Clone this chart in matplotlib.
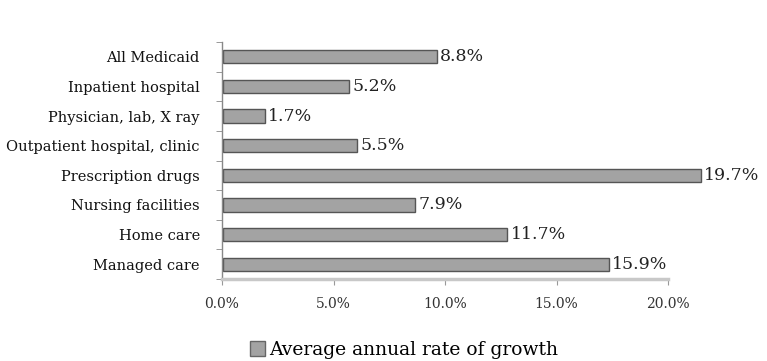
import matplotlib
matplotlib.use("Agg")
import matplotlib.pyplot as plt
import numpy as np
from matplotlib.patches import Patch

categories = ["All Medicaid", "Inpatient hospital", "Physician, lab, X ray",
              "Outpatient hospital, clinic", "Prescription drugs",
              "Nursing facilities", "Home care", "Managed care"]
values = [8.8, 5.2, 1.7, 5.5, 19.7, 7.9, 11.7, 15.9]
xticks = [0, 5, 10, 15, 20]
xticklabels = ["0.0%", "5.0%", "10.0%", "15.0%", "20.0%"]
legend_label = "Average annual rate of growth"

# the source chart's axis labels are spaced on a compressed scale
# relative to the bars (20.0% label sits where 18.4 in bar units lies)
label_scale = 0.92

plt.rcParams['font.family'] = ['DejaVu Serif', 'Liberation Serif']

fig = plt.figure(figsize=(7.67, 3.61), dpi=100)
top_px, bot_px = 42, 279
ax = fig.add_axes([222/767, 1-bot_px/361, (668-222)/767, (bot_px-top_px)/361])

n = len(categories)
y = np.arange(n)[::-1]
bars = ax.barh(y, values, height=0.45, color="#a3a3a3", edgecolor="#555555",
               linewidth=1.0, left=0.06)
for b in bars:
    b.set_clip_on(False)
for yi, v in zip(y, values):
    ax.text(v + 0.2, yi, f"{v:.1f}%", va="center", ha="left", fontsize=12.5,
            color="#222222", clip_on=False)

ax.set_ylim(-0.5, n - 0.5)
ax.set_xlim(0, xticks[-1] * label_scale)
ax.set_yticks(y)
ax.set_yticklabels(categories, fontsize=10.5, color="#111111")
ax.tick_params(axis='y', length=0, pad=16)
ax.set_yticks(np.arange(-0.5, n, 1.0), minor=True)
ax.tick_params(axis='y', which='minor', length=4, direction='out', color="#888888")
ax.set_xticks(np.array(xticks) * label_scale)
ax.set_xticklabels(xticklabels, fontsize=10, color="#333333")
ax.tick_params(axis='x', length=4, direction='out', pad=9, color="#999999")

for s in ["top", "right"]:
    ax.spines[s].set_visible(False)
ax.spines["left"].set_color("#888888")
ax.spines["left"].set_linewidth(1.0)
ax.spines["bottom"].set_color("#c8c8c8")
ax.spines["bottom"].set_linewidth(2.5)

handle = Patch(facecolor="#a3a3a3", edgecolor="#666666", label=legend_label)
fig.legend(handles=[handle], loc="center", bbox_to_anchor=(404/767, 1-350/361),
           frameon=False, fontsize=13.5, handlelength=0.8, handleheight=0.8,
           handletextpad=0.2)

fig.savefig("out.png", dpi=100)
